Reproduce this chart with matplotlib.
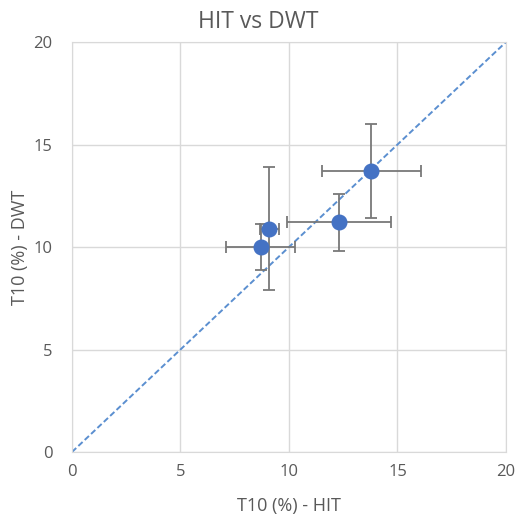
import matplotlib
matplotlib.use("Agg")
import matplotlib.pyplot as plt

# T10 (%) per sample: HIT on x, DWT on y, with symmetric errors
hit = [8.7, 9.1, 12.3, 13.8]
dwt = [10.0, 10.9, 11.2, 13.7]
hit_err = [1.6, 0.45, 2.4, 2.3]
dwt_err = [1.1, 3.0, 1.4, 2.3]
ticks = [0, 5, 10, 15, 20]

plt.rcParams["font.family"] = ["Open Sans", "DejaVu Sans"]
text_color = "#595959"
grid_color = "#d9d9d9"

fig = plt.figure(figsize=(5.16, 5.19), dpi=100)
ax = fig.add_axes([0.1395, 0.1291, 0.8411, 0.7899])

ax.plot([0, 20], [0, 20], linestyle=(0, (3, 1.5)), color="#5b8fd0", lw=1.4, zorder=2)
ax.errorbar(hit, dwt, xerr=hit_err, yerr=dwt_err, fmt="o", color="#4472c4",
            markersize=10.5, ecolor="#787878", elinewidth=1.3, capsize=4,
            capthick=1.3, zorder=3)

ax.set_xlim(0, 20)
ax.set_ylim(0, 20)
ax.set_xticks(ticks)
ax.set_yticks(ticks)
ax.grid(True, color=grid_color, lw=1)
ax.set_axisbelow(True)
for s in ax.spines.values():
    s.set_color(grid_color)
ax.tick_params(length=0, labelsize=12, labelcolor=text_color)
ax.tick_params(axis="y", pad=14)
ax.tick_params(axis="x", pad=9)

# chart title is centred on the whole figure, not the plot area
fig.text(0.5, 0.958, "HIT vs DWT", fontsize=16.5, color=text_color,
         ha="center", va="center")
ax.set_xlabel("T10 (%) - HIT", fontsize=13, color=text_color, labelpad=12)
ax.set_ylabel("T10 (%) - DWT", fontsize=13, color=text_color, labelpad=3)

fig.savefig("out.png", dpi=100)
